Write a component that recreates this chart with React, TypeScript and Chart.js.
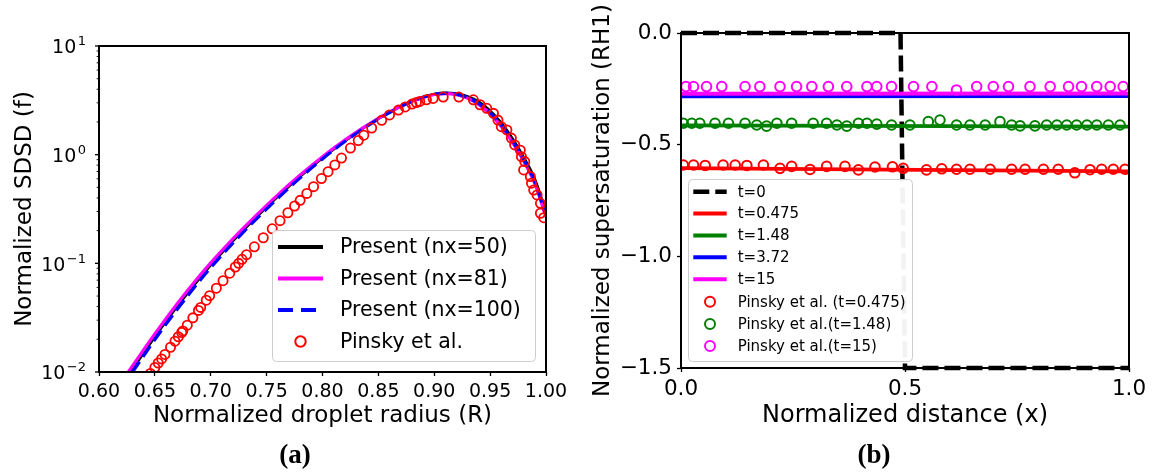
import React, { useEffect, useRef } from 'react';
import { Chart, registerables } from 'chart.js';

Chart.register(...registerables);

const FONT = "'DejaVu Sans', sans-serif";

// ---------------- Panel (a) data ----------------
const radiusGrid = [0.62, 0.63, 0.65, 0.67, 0.69, 0.70, 0.72, 0.74, 0.76, 0.78, 0.80, 0.82, 0.84, 0.86, 0.88, 0.90, 0.91, 0.92, 0.93, 0.94, 0.95, 0.96, 0.97, 0.98, 0.99, 1.00];
const sdsdNx50 = [0.0075, 0.0106, 0.0210, 0.0400, 0.0726, 0.0962, 0.161, 0.261, 0.411, 0.630, 0.933, 1.33, 1.85, 2.45, 3.11, 3.61, 3.71, 3.65, 3.43, 3.06, 2.54, 1.96, 1.41, 0.951, 0.596, 0.295];
const sdsdNx81 = [0.0081, 0.0114, 0.0224, 0.0425, 0.0767, 0.101, 0.169, 0.272, 0.427, 0.649, 0.957, 1.36, 1.87, 2.46, 3.10, 3.58, 3.65, 3.56, 3.30, 2.89, 2.38, 1.82, 1.30, 0.873, 0.543, 0.266];
const sdsdNx100 = [0.0071, 0.0100, 0.0199, 0.0378, 0.0689, 0.0914, 0.154, 0.251, 0.397, 0.612, 0.914, 1.32, 1.83, 2.44, 3.09, 3.59, 3.67, 3.60, 3.35, 2.95, 2.44, 1.87, 1.34, 0.902, 0.562, 0.275];
const pinskyRadius = [0.646, 0.650, 0.653, 0.656, 0.659, 0.664, 0.668, 0.671, 0.674, 0.675, 0.679, 0.684, 0.689, 0.691, 0.696, 0.699, 0.705, 0.711, 0.717, 0.722, 0.725, 0.728, 0.732, 0.739, 0.747, 0.755, 0.762, 0.769, 0.775, 0.780, 0.786, 0.792, 0.799, 0.805, 0.811, 0.817, 0.825, 0.832, 0.837, 0.844, 0.853, 0.860, 0.868, 0.874, 0.880, 0.884, 0.887, 0.893, 0.899, 0.908, 0.922, 0.935, 0.941, 0.947, 0.953, 0.957, 0.960, 0.965, 0.969, 0.972, 0.977, 0.978, 0.981, 0.980, 0.986, 0.987, 0.989, 0.992, 0.995, 0.995, 0.998];
const pinskySdsd = [0.0097, 0.0110, 0.0121, 0.0132, 0.0145, 0.0169, 0.0192, 0.0211, 0.0231, 0.0239, 0.0270, 0.0315, 0.0369, 0.0393, 0.0458, 0.0504, 0.0590, 0.0692, 0.0811, 0.0925, 0.100, 0.109, 0.120, 0.142, 0.172, 0.208, 0.247, 0.292, 0.337, 0.380, 0.440, 0.508, 0.603, 0.697, 0.805, 0.931, 1.15, 1.35, 1.51, 1.76, 2.07, 2.32, 2.57, 2.75, 2.92, 3.02, 3.09, 3.20, 3.29, 3.39, 3.39, 3.20, 2.88, 2.67, 2.40, 2.08, 1.81, 1.69, 1.42, 1.23, 1.10, 0.959, 0.863, 0.723, 0.628, 0.546, 0.473, 0.426, 0.357, 0.289, 0.263];
const radiusTicks = [0.6, 0.65, 0.7, 0.75, 0.8, 0.85, 0.9, 0.95, 1.0];
const sdsdDecades = [-2, -1, 0, 1];
const legendLabelsA = ['Present (nx=50)', 'Present (nx=81)', 'Present (nx=100)', 'Pinsky et al.'];

// ---------------- Panel (b) data ----------------
const lineDistance = [0, 1];
const rhT0475 = [-0.605, -0.620];
const rhT148 = [-0.414, -0.419];
const rhT372 = [-0.284, -0.282];
const rhT15 = [-0.272, -0.271];
const t0Distance = [0, 0.49, 0.5, 1];
const t0Rh = [0, 0, -1.5, -1.5];
const pinskyRedX = [0.005, 0.028, 0.054, 0.094, 0.121, 0.147, 0.184, 0.221, 0.247, 0.288, 0.325, 0.366, 0.396, 0.433, 0.472, 0.496, 0.548, 0.582, 0.615, 0.645, 0.690, 0.738, 0.768, 0.809, 0.842, 0.879, 0.913, 0.939, 0.965, 0.991];
const pinskyRedY = [-0.591, -0.591, -0.593, -0.591, -0.591, -0.593, -0.591, -0.606, -0.597, -0.611, -0.597, -0.597, -0.613, -0.600, -0.599, -0.606, -0.613, -0.608, -0.610, -0.610, -0.610, -0.610, -0.610, -0.610, -0.610, -0.626, -0.612, -0.610, -0.610, -0.610];
const pinskyGreenX = [0.005, 0.024, 0.042, 0.076, 0.106, 0.143, 0.169, 0.191, 0.214, 0.247, 0.295, 0.325, 0.348, 0.370, 0.396, 0.415, 0.437, 0.470, 0.511, 0.552, 0.578, 0.615, 0.645, 0.679, 0.712, 0.738, 0.757, 0.790, 0.816, 0.839, 0.861, 0.883, 0.906, 0.928, 0.954, 0.980];
const pinskyGreenY = [-0.404, -0.404, -0.404, -0.404, -0.404, -0.404, -0.412, -0.417, -0.404, -0.404, -0.404, -0.404, -0.412, -0.417, -0.404, -0.404, -0.408, -0.412, -0.412, -0.397, -0.390, -0.412, -0.412, -0.412, -0.397, -0.412, -0.416, -0.416, -0.412, -0.412, -0.412, -0.412, -0.412, -0.412, -0.412, -0.412];
const pinskyMagentaX = [0.011, 0.028, 0.057, 0.091, 0.143, 0.176, 0.221, 0.258, 0.292, 0.329, 0.370, 0.415, 0.437, 0.470, 0.519, 0.560, 0.615, 0.660, 0.697, 0.731, 0.779, 0.824, 0.865, 0.894, 0.928, 0.958, 0.987];
const pinskyMagentaY = [-0.240, -0.240, -0.240, -0.240, -0.240, -0.240, -0.240, -0.240, -0.240, -0.240, -0.240, -0.240, -0.240, -0.240, -0.240, -0.240, -0.255, -0.240, -0.240, -0.240, -0.240, -0.240, -0.240, -0.240, -0.240, -0.240, -0.240];
const distanceTicks = [0, 0.5, 1];
const rhTicks = [0, -0.5, -1.0, -1.5];
const legendLabelsB = ['t=0', 't=0.475', 't=1.48', 't=3.72', 't=15', 'Pinsky et al. (t=0.475)', 'Pinsky et al.(t=1.48)', 'Pinsky et al.(t=15)'];

const pts = (xs: number[], ys: number[]) => xs.map((x, i) => ({ x, y: ys[i] }));

type LegendItem = { label: string; kind: 'line' | 'circle'; color: string; width?: number; dash?: number[] };
type LegendSpec = {
  box: { x: number; y: number; w: number; h: number };
  rows: number[];
  hx0: number; hx1: number; tx: number; fontSize: number; circleR: number; circleW: number;
  items: LegendItem[];
};

function roundRect(ctx: CanvasRenderingContext2D, x: number, y: number, w: number, h: number, r: number) {
  ctx.beginPath();
  ctx.moveTo(x + r, y);
  ctx.lineTo(x + w - r, y);
  ctx.arcTo(x + w, y, x + w, y + r, r);
  ctx.lineTo(x + w, y + h - r);
  ctx.arcTo(x + w, y + h, x + w - r, y + h, r);
  ctx.lineTo(x + r, y + h);
  ctx.arcTo(x, y + h, x, y + h - r, r);
  ctx.lineTo(x, y + r);
  ctx.arcTo(x, y, x + r, y, r);
  ctx.closePath();
}

function drawLegend(ctx: CanvasRenderingContext2D, spec: LegendSpec) {
  ctx.save();
  const { box } = spec;
  roundRect(ctx, box.x + 0.5, box.y + 0.5, box.w, box.h, 4);
  ctx.fillStyle = 'rgba(255,255,255,0.95)';
  ctx.fill();
  ctx.strokeStyle = '#cccccc';
  ctx.lineWidth = 1;
  ctx.stroke();
  ctx.font = `${spec.fontSize}px ${FONT}`;
  ctx.textBaseline = 'middle';
  ctx.textAlign = 'left';
  spec.items.forEach((it, i) => {
    const y = spec.rows[i];
    if (it.kind === 'line') {
      ctx.beginPath();
      ctx.setLineDash(it.dash || []);
      ctx.strokeStyle = it.color;
      ctx.lineWidth = it.width || 3;
      ctx.lineCap = 'butt';
      ctx.moveTo(spec.hx0, y);
      ctx.lineTo(spec.hx1, y);
      ctx.stroke();
      ctx.setLineDash([]);
    } else {
      ctx.beginPath();
      ctx.strokeStyle = it.color;
      ctx.lineWidth = spec.circleW;
      ctx.arc((spec.hx0 + spec.hx1) / 2, y, spec.circleR, 0, Math.PI * 2);
      ctx.stroke();
    }
    ctx.fillStyle = '#000';
    ctx.fillText(it.label, spec.tx, y + 1);
  });
  ctx.restore();
}

const framePlugin = {
  id: 'frame',
  afterDatasetsDraw(chart: any) {
    const { ctx, chartArea } = chart;
    ctx.save();
    ctx.strokeStyle = '#000';
    ctx.lineWidth = 2;
    ctx.strokeRect(chartArea.left, chartArea.top, chartArea.right - chartArea.left, chartArea.bottom - chartArea.top);
    ctx.restore();
  },
};

const logAxisPlugin = {
  id: 'logAxis',
  afterDraw(chart: any) {
    const { ctx, chartArea, scales } = chart;
    const ys = scales.y;
    const left = chartArea.left;
    ctx.save();
    ctx.strokeStyle = '#000';
    ctx.fillStyle = '#000';
    sdsdDecades.forEach((d, idx) => {
      const py = ys.getPixelForValue(Math.pow(10, d));
      ctx.lineWidth = 1.3;
      ctx.beginPath();
      ctx.moveTo(left - 4, py);
      ctx.lineTo(left, py);
      ctx.stroke();
      if (idx < sdsdDecades.length - 1) {
        ctx.lineWidth = 0.9;
        for (let k = 2; k <= 9; k++) {
          const my = ys.getPixelForValue(k * Math.pow(10, d));
          ctx.beginPath();
          ctx.moveTo(left - 2.4, my);
          ctx.lineTo(left, my);
          ctx.stroke();
        }
      }
      const base = '10';
      const exp = d < 0 ? '\u2212' + Math.abs(d) : String(d);
      ctx.font = `19px ${FONT}`;
      const w1 = ctx.measureText(base).width;
      ctx.font = `13px ${FONT}`;
      const w2 = ctx.measureText(exp).width;
      const right = 86;
      const start = right - (w1 + 1.5 + w2);
      ctx.textBaseline = 'alphabetic';
      ctx.textAlign = 'left';
      ctx.font = `19px ${FONT}`;
      ctx.fillText(base, start, py + 7.3);
      ctx.font = `13px ${FONT}`;
      ctx.fillText(exp, start + w1 + 1.5, py - 0.8);
    });
    ctx.restore();
  },
};

const legendAPlugin = {
  id: 'legendA',
  afterDraw(chart: any) {
    drawLegend(chart.ctx, {
      box: { x: 272, y: 230, w: 263, h: 131 },
      rows: [247, 278.5, 310, 341.5],
      hx0: 278, hx1: 323, tx: 340, fontSize: 20.5, circleR: 5.2, circleW: 2,
      items: [
        { label: legendLabelsA[0], kind: 'line', color: '#000000', width: 4 },
        { label: legendLabelsA[1], kind: 'line', color: '#ff00ff', width: 4 },
        { label: legendLabelsA[2], kind: 'line', color: '#0000ff', width: 4, dash: [15, 8] },
        { label: legendLabelsA[3], kind: 'circle', color: '#ff0000' },
      ],
    });
  },
};

const legendBPlugin = {
  id: 'legendB',
  afterDraw(chart: any) {
    drawLegend(chart.ctx, {
      box: { x: 108, y: 179, w: 224, h: 182 },
      rows: [191.7, 213.5, 235.5, 257.3, 279.3, 301.7, 324, 346],
      hx0: 113.3, hx1: 146.7, tx: 157.7, fontSize: 15, circleR: 5, circleW: 2,
      items: [
        { label: legendLabelsB[0], kind: 'line', color: '#000000', width: 4.5, dash: [16, 6] },
        { label: legendLabelsB[1], kind: 'line', color: '#ff0000', width: 4 },
        { label: legendLabelsB[2], kind: 'line', color: '#008000', width: 4 },
        { label: legendLabelsB[3], kind: 'line', color: '#0000ff', width: 4 },
        { label: legendLabelsB[4], kind: 'line', color: '#ff00ff', width: 4 },
        { label: legendLabelsB[5], kind: 'circle', color: '#ff0000' },
        { label: legendLabelsB[6], kind: 'circle', color: '#008000' },
        { label: legendLabelsB[7], kind: 'circle', color: '#ff00ff' },
      ],
    });
  },
};

const tickGrid = { drawOnChartArea: false, drawTicks: true, tickLength: 4, tickColor: '#000', tickWidth: 1.3, color: '#000' };

function lineDs(label: string, data: any[], color: string, width: number, order: number, dash: number[] = []) {
  return {
    label, data, borderColor: color, backgroundColor: color, borderWidth: width, borderDash: dash,
    pointRadius: 0, showLine: true, fill: false, order, cubicInterpolationMode: 'monotone',
  };
}
function circleDs(label: string, data: any[], color: string, r: number, w: number, order: number) {
  return {
    label, data, borderColor: color, backgroundColor: 'rgba(0,0,0,0)', showLine: false,
    pointRadius: r, pointBorderWidth: w, pointBorderColor: color, pointBackgroundColor: 'rgba(0,0,0,0)',
    pointStyle: 'circle', order,
  };
}

export default function App() {
  const refA = useRef<HTMLCanvasElement>(null);
  const refB = useRef<HTMLCanvasElement>(null);

  useEffect(() => {
    Chart.defaults.font.family = FONT;
    Chart.defaults.color = '#000';

    const chartA = new Chart(refA.current as HTMLCanvasElement, {
      type: 'line',
      data: {
        datasets: [
          lineDs(legendLabelsA[0], pts(radiusGrid, sdsdNx50), '#000000', 2.6, 4),
          lineDs(legendLabelsA[1], pts(radiusGrid, sdsdNx81), '#ff00ff', 3.2, 3),
          lineDs(legendLabelsA[2], pts(radiusGrid, sdsdNx100), '#0000ff', 3.2, 2, [13, 6]),
          circleDs(legendLabelsA[3], pts(pinskyRadius, pinskySdsd), '#ff0000', 4.6, 1.8, 1),
        ] as any,
      },
      options: {
        animation: false,
        responsive: false,
        maintainAspectRatio: false,
        layout: { padding: { left: 0, top: 46, right: 34, bottom: 0 } },
        plugins: { legend: { display: false }, tooltip: { enabled: false } },
        scales: {
          x: {
            type: 'linear', min: 0.6, max: 1.0,
            afterBuildTicks: (s: any) => { s.ticks = radiusTicks.map((v) => ({ value: v })); },
            ticks: { callback: (v: any) => Number(v).toFixed(2), font: { size: 19, family: FONT }, color: '#000', padding: 5, maxRotation: 0, autoSkip: false },
            grid: tickGrid,
            border: { display: false },
            title: { display: true, text: 'Normalized droplet radius (R)', font: { size: 23, family: FONT }, color: '#000', padding: { top: 0, bottom: 43 } },
            afterFit: (s: any) => { s.height = 101; },
          },
          y: {
            type: 'logarithmic', min: 0.01, max: 10,
            ticks: { display: false },
            grid: { display: false },
            border: { display: false },
            title: { display: true, text: 'Normalized SDSD (f)', font: { size: 23, family: FONT }, color: '#000', padding: { top: 11, bottom: 0 } },
            afterFit: (s: any) => { s.width = 99; },
          },
        },
      } as any,
      plugins: [framePlugin, logAxisPlugin, legendAPlugin],
    });

    const chartB = new Chart(refB.current as HTMLCanvasElement, {
      type: 'line',
      data: {
        datasets: [
          { ...lineDs(legendLabelsB[0], pts(t0Distance, t0Rh), '#000000', 4.5, 9, [16, 6]), cubicInterpolationMode: 'default', clip: false },
          lineDs(legendLabelsB[1], pts(lineDistance, rhT0475), '#ff0000', 3.8, 8),
          lineDs(legendLabelsB[2], pts(lineDistance, rhT148), '#008000', 3.8, 7),
          lineDs(legendLabelsB[3], pts(lineDistance, rhT372), '#0000ff', 3.8, 6),
          lineDs(legendLabelsB[4], pts(lineDistance, rhT15), '#ff00ff', 3.8, 5),
          circleDs(legendLabelsB[5], pts(pinskyRedX, pinskyRedY), '#ff0000', 4.8, 2, 3),
          circleDs(legendLabelsB[6], pts(pinskyGreenX, pinskyGreenY), '#008000', 4.8, 2, 2),
          circleDs(legendLabelsB[7], pts(pinskyMagentaX, pinskyMagentaY), '#ff00ff', 4.8, 2, 1),
        ] as any,
      },
      options: {
        animation: false,
        responsive: false,
        maintainAspectRatio: false,
        layout: { padding: { left: 0, top: 33, right: 27, bottom: 0 } },
        plugins: { legend: { display: false }, tooltip: { enabled: false } },
        scales: {
          x: {
            type: 'linear', min: 0, max: 1,
            afterBuildTicks: (s: any) => { s.ticks = distanceTicks.map((v) => ({ value: v })); },
            ticks: { callback: (v: any) => Number(v).toFixed(1), font: { size: 21.5, family: FONT }, color: '#000', padding: 5, maxRotation: 0, autoSkip: false },
            grid: tickGrid,
            border: { display: false },
            title: { display: true, text: 'Normalized distance (x)', font: { size: 24, family: FONT }, color: '#000', padding: { top: 0, bottom: 43 } },
            afterFit: (s: any) => { s.height = 105; },
          },
          y: {
            type: 'linear', min: -1.5, max: 0,
            afterBuildTicks: (s: any) => { s.ticks = rhTicks.map((v) => ({ value: v })); },
            ticks: {
              callback: (v: any) => (Number(v) < 0 ? '\u2212' : '') + Math.abs(Number(v)).toFixed(1),
              font: { size: 21.5, family: FONT }, color: '#000', padding: 5, autoSkip: false,
            },
            grid: tickGrid,
            border: { display: false },
            title: { display: true, text: 'Normalized supersaturation (RH1)', font: { size: 23, family: FONT }, color: '#000', padding: { top: 9.5, bottom: 0 } },
            afterFit: (s: any) => { s.width = 101; },
          },
        },
      } as any,
      plugins: [framePlugin, legendBPlugin],
    });

    return () => {
      chartA.destroy();
      chartB.destroy();
    };
  }, []);

  const labelStyle: React.CSSProperties = {
    position: 'absolute', width: 100, textAlign: 'center', top: 437,
    font: "bold 27px 'Liberation Serif', serif", lineHeight: '34px', color: '#000',
  };

  return (
    <div style={{ position: 'absolute', left: 0, top: 0, width: 1156, height: 473, background: '#fff', overflow: 'hidden' }}>
      <canvas ref={refA} width={580} height={473} style={{ position: 'absolute', left: 0, top: 0, width: 580, height: 473 }} />
      <canvas ref={refB} width={576} height={473} style={{ position: 'absolute', left: 580, top: 0, width: 576, height: 473 }} />
      <div style={{ ...labelStyle, left: 245 }}>(a)</div>
      <div style={{ ...labelStyle, left: 824 }}>(b)</div>
    </div>
  );
}
